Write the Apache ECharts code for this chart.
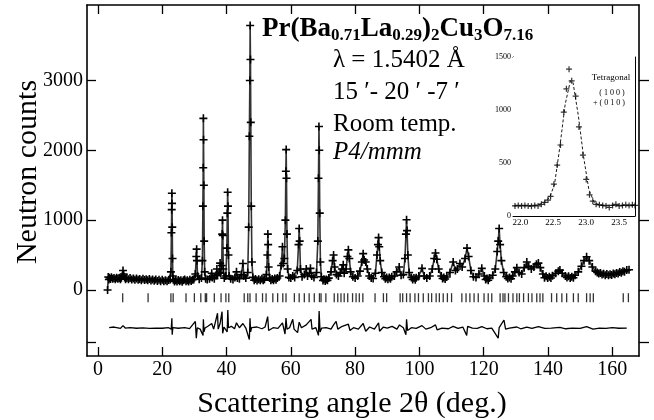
<!DOCTYPE html>
<html>
<head>
<meta charset="utf-8">
<title>Pr(Ba,La)2Cu3O7 neutron pattern</title>
<script src="https://cdn.jsdelivr.net/npm/echarts@6/dist/echarts.min.js"></script>
<style>
  html, body { margin: 0; padding: 0; background: #fff; }
  #chart { width: 654px; height: 420px; }
</style>
</head>
<body>
<div id="chart"></div>
<script>
// observed counts (2theta deg, counts)
var observed = [
  [3.0,0],[3.2,185],[3.4,150],[3.6,175],[3.9,158],[4.2,182],[4.6,160],[5.0,170],[5.4,155],[5.8,176],[6.2,160],[6.6,170],
  [7.0,155],[7.3,175],[7.6,205],[7.8,280],[8.0,230],[8.3,178],[8.6,155],[9.0,170],[9.5,152],[10.0,172],[10.5,150],
  [11.0,163],[11.5,145],[12.0,166],[12.5,148],[13.0,158],[13.5,140],[14.0,162],[14.5,142],[15.0,155],[15.5,138],
  [16.0,156],[16.5,136],[17.0,150],[17.5,132],[18.0,150],[18.5,128],[19.0,145],[19.5,126],[20.0,146],[20.5,124],
  [21.0,140],[21.5,125],[22.0,142],[22.5,150],[22.7,260],[22.85,820],[22.95,1150],[23.0,1386],[23.05,1240],[23.12,900],
  [23.2,450],[23.3,200],[23.45,145],[23.8,122],[24.2,140],[24.6,120],[25.0,142],[25.4,124],[25.8,138],[26.2,118],
  [26.6,140],[27.0,150],[27.4,125],[27.8,140],[28.2,122],[28.6,145],[29.0,128],[29.4,148],[29.8,150],
  [30.3,230],[30.6,480],[30.7,585],[30.8,420],[31.0,200],[31.5,155],[32.2,170],[32.5,420],[32.65,1200],[32.75,1750],
  [32.8,2457],[32.85,2150],[32.95,1500],[33.05,700],[33.2,260],[33.5,160],[34.0,150],[34.7,160],[35.2,190],[35.4,240],
  [35.6,180],[36.2,160],[36.8,210],[37.0,300],[37.2,220],[37.7,250],[38.0,385],[38.2,240],[38.5,350],[38.65,800],
  [38.75,1000],[38.85,780],[39.0,300],[39.3,170],[39.8,200],[40.1,600],[40.25,1100],[40.35,1400],[40.45,1200],[40.6,500],
  [40.8,200],[41.3,160],[42.0,150],[42.6,180],[43.1,260],[43.4,170],[44.0,160],[44.6,220],[45.1,380],[45.4,200],[46.0,170],
  [46.6,250],[46.9,900],[47.1,2200],[47.25,3000],[47.35,3786],[47.45,3300],[47.55,2400],[47.7,1200],[47.9,400],[48.2,180],
  [48.6,140],[49.0,158],[49.5,135],[50.0,152],[50.5,138],[51.0,160],[51.4,140],[51.8,155],[52.4,220],[52.7,500],
  [52.85,800],[52.95,650],[53.1,330],[53.4,170],[53.8,140],[54.2,158],[54.6,140],[55.0,165],[55.4,145],[55.8,172],
  [56.5,200],[57.0,350],[57.4,620],[57.6,380],[58.0,450],[58.3,1000],[58.45,1700],
  [58.55,2010],[58.65,1600],[58.8,800],[59.0,300],[59.4,180],[60.0,170],[60.6,200],[61.2,180],[62.0,280],[62.4,650],
  [62.6,880],[62.75,700],[63.0,300],[63.5,190],[64.2,220],[64.8,300],[65.2,200],[65.8,240],[66.1,310],[66.5,200],
  [67.2,180],[68.0,250],[68.4,700],[68.6,1600],[68.75,2340],[68.85,2000],[69.0,1100],[69.2,400],[69.5,190],[70.0,135],
  [70.3,155],[70.7,130],[71.0,150],[71.4,138],[71.8,170],[72.5,260],[73.0,420],[73.3,500],[73.6,330],[74.2,220],
  [74.8,200],[75.4,250],[75.9,300],
  [76.3,360],[76.6,240],[77.2,300],[77.6,480],[77.9,575],[78.2,450],[78.6,260],[79.3,190],[80.0,170],[80.8,200],
  [81.5,270],[82.1,400],[82.5,520],[82.8,430],[83.3,400],[83.8,300],[84.4,200],[85.0,170],[85.6,165],[86.3,240],
  [86.8,500],[87.1,650],[87.3,750],[87.5,620],[87.8,420],[88.3,250],[89.0,190],[89.4,160],[89.8,178],[90.2,155],
  [90.6,180],[91.0,160],[91.4,190],[92.2,200],[92.9,260],[93.7,330],[94.3,210],[95.0,220],[95.5,450],[95.8,800],
  [96.0,1005],[96.15,850],[96.4,500],[96.8,250],[97.5,180],[97.9,150],[98.3,172],[98.7,148],[99.0,175],[99.8,200],
  [100.8,310],[101.5,200],[102.3,170],[103.2,200],[104.0,300],
  [104.6,450],[105.0,530],[105.4,440],[106.0,300],[106.8,200],[107.2,165],[107.6,180],[108.0,158],[108.5,185],
  [109.5,250],[110.5,400],
  [111.2,280],[111.8,300],[112.6,380],[113.3,330],[114.2,450],[114.8,600],[115.3,480],[116.0,280],[116.8,190],
  [117.6,180],[118.5,230],[119.4,310],[120.2,200],[120.6,150],[121.0,165],[121.4,140],[121.8,172],[122.8,210],
  [123.6,300],[124.2,550],
  [124.5,700],[124.8,880],[125.1,650],[125.5,420],[126.2,250],[127.0,190],[127.5,165],[128.0,180],[128.5,162],
  [129.0,200],[129.7,260],
  [130.3,320],[131.0,250],[131.8,230],[132.6,320],[133.4,400],[134.0,340],[134.8,300],[135.6,330],[136.4,370],
  [137.0,385],[137.6,320],[138.4,230],[138.9,175],[139.4,195],[139.9,170],[140.4,190],[140.9,172],[141.4,205],
  [142.4,240],[143.2,270],[143.7,285],
  [144.4,240],[145.4,200],[145.9,178],[146.4,195],[146.9,172],[147.4,190],[147.9,175],[148.4,210],[149.4,260],
  [150.4,340],[151.2,420],[152.0,475],
  [152.8,420],[153.8,330],[154.8,270],[155.3,250],[155.8,235],[156.3,245],[156.8,220],[157.3,232],[157.8,212],
  [158.3,228],[158.8,210],[159.3,225],[159.8,215],[160.3,235],[160.8,225],[161.3,245],[161.8,235],[162.3,258],
  [162.8,248],[163.3,270],[163.8,262],[164.5,285],[165.2,290]
];

// observed minus calculated, drawn offset below zero
var difference = [
  [3.5,-540],[5,-530],[7,-550],[7.8,-510],[8.5,-545],[10,-540],[12,-548],[14,-542],[16,-550],[18,-545],[20,-548],
  [22,-540],[22.8,-560],[23.0,-405],[23.1,-640],[23.3,-540],[25,-548],[27,-540],[28.5,-552],[30.3,-450],[30.6,-690],
  [30.9,-540],[31.8,-560],[32.7,-650],[32.8,-420],[33.0,-600],[33.3,-545],[34.2,-520],[35.4,-480],[36.0,-560],
  [37.2,-333],[37.4,-560],[38.0,-480],[38.6,-310],[38.8,-620],[39.2,-530],[40.2,-600],[40.4,-285],[40.6,-540],
  [41.5,-520],[42.5,-555],[43.1,-470],[44.0,-540],[45.1,-480],[46.0,-545],[47.1,-710],[47.3,-405],[47.5,-600],
  [47.8,-540],[49.5,-530],[51.0,-555],[52.0,-530],[52.8,-380],[53.1,-580],[54.5,-540],[56.0,-550],[57.4,-470],
  [58.2,-630],[58.5,-400],[58.8,-560],[59.6,-540],[60.6,-420],[61.0,-560],[62.1,-610],[62.6,-460],[63.3,-540],
  [64.8,-500],[66.3,-420],[66.6,-560],[67.8,-540],[68.6,-650],[68.8,-300],[69.1,-600],[69.6,-545],[71.0,-540],
  [72.5,-560],[73.3,-500],[74.1,-450],[74.6,-560],[76.0,-520],[77.9,-490],[78.4,-580],[79.5,-540],[81.0,-560],
  [82.5,-480],[83.3,-590],[84.5,-530],[86.0,-560],[87.3,-470],[87.6,-590],[88.8,-530],[90.0,-545],[91.5,-520],
  [93.0,-560],[93.8,-500],[95.0,-540],[95.8,-640],[96.0,-420],[96.3,-580],[97.5,-540],[99.0,-550],[100.8,-510],
  [102.0,-560],[103.5,-540],[105.0,-500],[105.5,-570],[107.0,-545],[109.0,-555],[110.5,-520],[112.0,-550],
  [113.5,-530],[114.7,-650],[115.0,-520],[116.5,-545],[118.0,-550],[119.4,-525],[121.0,-555],[122.5,-545],
  [124.5,-690],[124.8,-540],[126.3,-430],[126.8,-560],[128.0,-545],[130.3,-530],[131.5,-555],[133.4,-530],
  [135.0,-550],[137.0,-525],[139.0,-550],[141.0,-545],[143.7,-535],[145.5,-555],[147.5,-545],[150.0,-550],
  [152.0,-525],[154.0,-560],[156.0,-545],[158.0,-550],[160.0,-540],[162.0,-548],[164.5,-545]
];

// Bragg reflection positions (2theta)
var braggPositions = [
  7.7,15.6,22.7,23.4,27.4,30.0,32.0,33.4,33.8,36.2,38.3,39.8,40.7,45.5,46.6,47.3,49.2,51.2,52.3,54.4,55.9,57.5,58.5,
  61.1,62.6,64.2,65.7,67.3,68.9,69.4,70.9,73.5,74.6,75.6,76.6,77.7,79.2,80.3,81.3,82.4,86.2,88.8,89.8,94.0,94.8,96.0,
  97.1,98.6,99.7,101.2,102.8,103.8,105.2,106.2,107.4,108.7,110.0,113.2,114.5,115.7,117.0,118.3,120.1,121.4,122.5,
  125.1,126.0,126.6,127.7,129.1,130.3,131.1,132.4,133.9,135.0,136.5,137.5,138.4,141.1,142.7,144.3,145.8,147.9,
  149.4,152.0,153.1,154.1,163.4,165.0
];
var braggLevel = -110;

// inset: tetragonal (100)+(010) reflection
var insetObserved = [
  [21.92,95],[21.97,100],[22.02,95],[22.07,100],[22.12,95],[22.17,92],[22.22,100],[22.27,95],[22.32,110],[22.37,128],
  [22.42,150],[22.46,185],[22.51,300],[22.56,480],[22.61,670],[22.66,980],[22.70,1200],[22.74,1385],[22.78,1275],
  [22.84,1130],[22.89,840],[22.95,575],[23.0,345],[23.05,200],[23.1,140],[23.15,110],[23.2,105],[23.25,100],[23.3,95],
  [23.35,80],[23.4,100],[23.45,110],[23.5,95],[23.55,100],[23.6,105],[23.65,98],[23.7,105],[23.74,100]
];
var insetCalc = [
  [21.9,95],[22.2,97],[22.35,120],[22.45,180],[22.52,300],[22.6,650],[22.68,1050],[22.76,1275],[22.8,1260],
  [22.88,950],[22.96,560],[23.04,250],[23.12,130],[23.2,102],[23.5,100],[23.75,100]
];

var mainXTicks = [0, 20, 40, 60, 80, 100, 120, 140, 160];
var mainYTicks = [-750, 0, 1000, 2000, 3000];
var mainYLabels = [0, 1000, 2000, 3000];
var insetXTicks = [22.0, 22.5, 23.0, 23.5];
var insetYTicks = [0, 500, 1000, 1500];

var serif = '"Liberation Serif", "DejaVu Serif", serif';
var cross = 'path://M4,0h2v4h4v2h-4v4h-2v-4h-4v-2h4z';
var plain = function (v) { return String(v); };

var chart = echarts.init(document.getElementById('chart'));

function frameAxis(pos, grid, min, max, ticks, labels, tickInside, tickLen, fontSize, fmt) {
  return {
    type: 'value', gridIndex: grid, position: pos, min: min, max: max,
    axisLine: { show: true, onZero: false, lineStyle: { color: '#000', width: grid === 0 ? 1.6 : 1 } },
    axisTick: { show: true, inside: tickInside, length: tickLen, customValues: ticks,
      lineStyle: { color: '#000', width: grid === 0 ? 1.3 : 0.8 } },
    axisLabel: labels ? { show: true, customValues: labels, color: '#000', fontFamily: serif,
      fontSize: fontSize, margin: grid === 0 ? 4 : 2, formatter: fmt || plain } : { show: false },
    splitLine: { show: false }
  };
}

var option = {
  animation: false,
  backgroundColor: '#fff',
  grid: [
    { left: 87, top: 5, width: 552, height: 351 },
    { left: 513, top: 57, width: 122, height: 159, show: true, backgroundColor: '#fff', borderWidth: 0, z: 5 }
  ],
  xAxis: [
    frameAxis('bottom', 0, -3.4, 168.3, mainXTicks, mainXTicks, true, 9, 20),
    frameAxis('top', 0, -3.4, 168.3, mainXTicks, null, true, 9),
    frameAxis('bottom', 1, 21.89, 23.74, insetXTicks, insetXTicks, true, 3, 9, function (v) { return v.toFixed(1); }),
    frameAxis('top', 1, 21.89, 23.74, insetXTicks, null, true, 3)
  ],
  yAxis: [
    frameAxis('left', 0, -945, 4080, mainYTicks, mainYLabels, true, 9, 20),
    frameAxis('right', 0, -945, 4080, mainYTicks, null, false, 10),
    frameAxis('left', 1, 0, 1500, insetYTicks, insetYTicks, true, 3, 8),
    frameAxis('right', 1, 0, 1500, insetYTicks, null, true, 3)
  ],
  series: [
    {
      name: 'observed', type: 'line', xAxisIndex: 0, yAxisIndex: 0, data: observed,
      symbol: cross, symbolSize: 8, showAllSymbol: true,
      itemStyle: { color: '#000' }, lineStyle: { color: '#333', width: 1.6 }
    },
    {
      name: 'difference', type: 'line', xAxisIndex: 0, yAxisIndex: 0, data: difference,
      showSymbol: false, lineStyle: { color: '#000', width: 1.3 }
    },
    {
      name: 'bragg', type: 'scatter', xAxisIndex: 0, yAxisIndex: 0,
      data: braggPositions.map(function (p) { return [p, braggLevel]; }),
      symbol: 'rect', symbolSize: [1.3, 9], itemStyle: { color: '#000' }
    },
    {
      name: 'inset calc', type: 'line', xAxisIndex: 2, yAxisIndex: 2, data: insetCalc, z: 6,
      showSymbol: false, lineStyle: { color: '#000', width: 0.9, type: [3, 2] }
    },
    {
      name: 'inset observed', type: 'scatter', xAxisIndex: 2, yAxisIndex: 2, data: insetObserved, z: 6,
      symbol: cross, symbolSize: 6, itemStyle: { color: '#000' }
    }
  ],
  graphic: [
    { type: 'text', x: 28, y: 172, rotation: Math.PI / 2, z: 10,
      style: { text: 'Neutron counts', font: '30px ' + serif, fill: '#000', align: 'center', verticalAlign: 'middle' } },
    { type: 'text', x: 352, y: 404, z: 10,
      style: { text: 'Scattering angle 2\u03b8 (deg.)', font: '30px ' + serif, fill: '#000', align: 'center', verticalAlign: 'middle' } },
    { type: 'text', x: 262, y: 16, z: 10,
      style: {
        text: '{m|Pr(Ba}{s|0.71}{m|La}{s|0.29}{m|)}{s|2}{m|Cu}{s|3}{m|O}{s|7.16}',
        rich: {
          m: { font: 'bold 27px ' + serif, fill: '#000', verticalAlign: 'top', lineHeight: 28 },
          s: { font: 'bold 17px ' + serif, fill: '#000', verticalAlign: 'bottom', lineHeight: 17, padding: [14, 0, 0, 0] }
        },
        verticalAlign: 'top'
      } },
    { type: 'text', x: 333, y: 60, z: 10,
      style: { text: '\u03bb = 1.5402 \u00c5', font: '25px ' + serif, fill: '#000', verticalAlign: 'middle' } },
    { type: 'text', x: 333, y: 92, z: 10,
      style: { text: '15 \u2032- 20 \u2032 -7 \u2032', font: '25px ' + serif, fill: '#000', verticalAlign: 'middle' } },
    { type: 'text', x: 333, y: 124, z: 10,
      style: { text: 'Room temp.', font: '25px ' + serif, fill: '#000', verticalAlign: 'middle' } },
    { type: 'text', x: 333, y: 152, z: 10,
      style: { text: 'P4/mmm', font: 'italic 25px ' + serif, fill: '#000', verticalAlign: 'middle' } },
    { type: 'text', x: 611, y: 78, z: 10,
      style: { text: 'Tetragonal', font: '9px ' + serif, fill: '#000', align: 'center', verticalAlign: 'middle' } },
    { type: 'text', x: 612, y: 93, z: 10,
      style: { text: '( 1 0 0 )', font: '8px ' + serif, fill: '#000', align: 'center', verticalAlign: 'middle' } },
    { type: 'text', x: 609, y: 103, z: 10,
      style: { text: '+ ( 0 1 0 )', font: '8px ' + serif, fill: '#000', align: 'center', verticalAlign: 'middle' } }
  ]
};

chart.setOption(option);
window.addEventListener('resize', function () { chart.resize(); });
</script>
</body>
</html>
